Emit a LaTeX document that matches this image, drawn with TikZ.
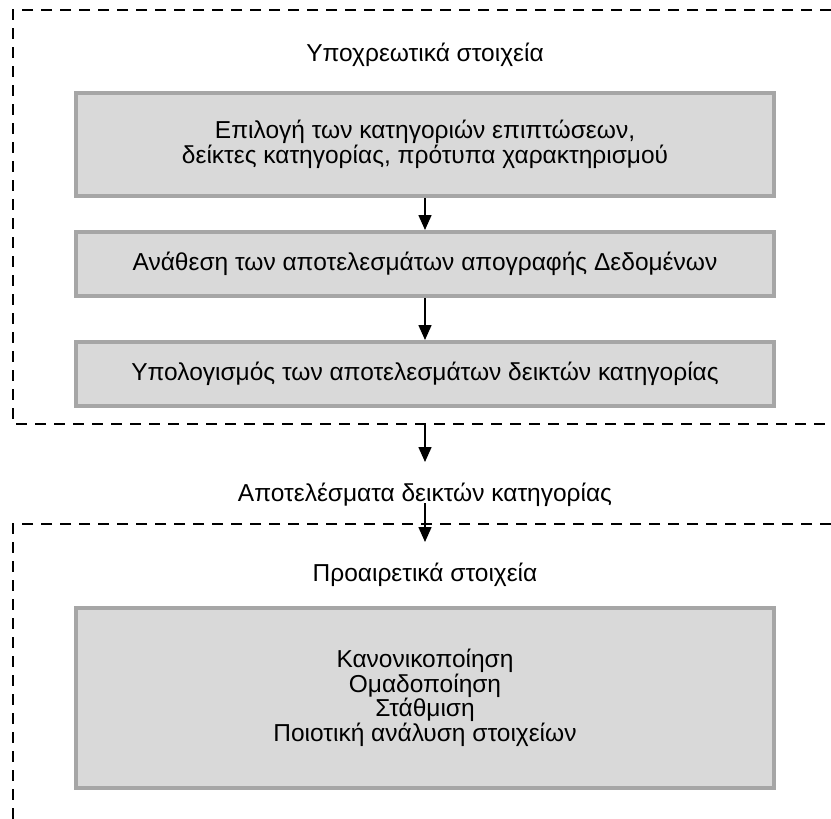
\documentclass[tikz,border=0pt]{standalone}
\usepackage{fontspec}
\setmainfont{Liberation Sans}
\usetikzlibrary{arrows.meta}
\definecolor{boxfill}{HTML}{D9D9D9}
\definecolor{boxline}{HTML}{A6A6A6}
\begin{document}
\begin{tikzpicture}[x=1pt,y=-1pt,
  every node/.style={font=\fontsize{24.5}{24.5}\selectfont},
  stepbox/.style={draw=boxline,fill=boxfill,line width=4pt,
    minimum width=698pt,inner sep=0pt,align=center},
  frameline/.style={line width=2.8pt,dash pattern=on 11pt off 8pt},
  flow/.style={line width=1.6pt,-{Triangle[length=15pt,width=13pt]}}]
\useasboundingbox (0,0) rectangle (831,819);

% mandatory part: dashed frame
\draw[frameline] (831,10) -- (13,10) -- (13,424) -- (831,424);
\node (mandtitle) at (425,55) {Υποχρεωτικά στοιχεία};
\node[stepbox,minimum height=103pt] (sel) at (425,144.5)
  {Επιλογή των κατηγοριών επιπτώσεων,\\δείκτες κατηγορίας, πρότυπα χαρακτηρισμού};
\node[stepbox,minimum height=64pt] (assign) at (425,264)
  {Ανάθεση των αποτελεσμάτων απογραφής Δεδομένων};
\node[stepbox,minimum height=64pt] (calc) at (425,374)
  {Υπολογισμός των αποτελεσμάτων δεικτών κατηγορίας};
\draw[flow] (sel) -- (assign);
\draw[flow] (assign) -- (calc);

% category indicator results
\coordinate (outtop) at (425,424);
\coordinate (outtip) at (425,462);
\node (results) at (425,495) {Αποτελέσματα δεικτών κατηγορίας};
\coordinate (intop) at (425,503);
\coordinate (intip) at (425,542);
\draw[flow] (outtop) -- (outtip);
\draw[flow] (intop) -- (intip);

% optional part: dashed frame
\draw[frameline] (831,524) -- (13,524) -- (13,819);
\node (opttitle) at (425,575) {Προαιρετικά στοιχεία};
\node[stepbox,minimum height=180pt] (opt) at (425,698)
  {Κανονικοποίηση\\Ομαδοποίηση\\Στάθμιση\\Ποιοτική ανάλυση στοιχείων};
\end{tikzpicture}
\end{document}
